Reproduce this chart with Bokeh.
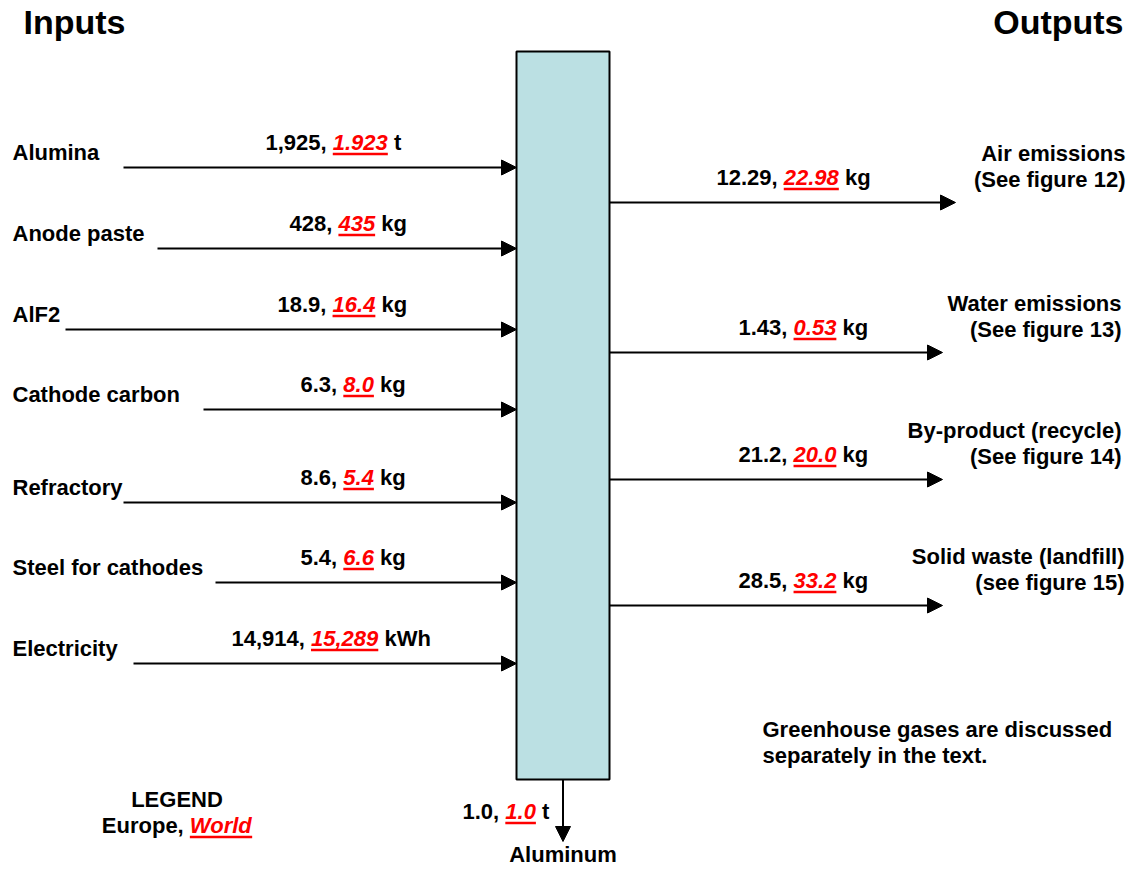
from bokeh.plotting import figure
from bokeh.models import ColumnDataSource, Arrow, NormalHead, Range1d
from bokeh.core.properties import value
from bokeh.embed import file_html
from bokeh.resources import INLINE

# ---------------- data ----------------
input_labels = ["Alumina", "Anode paste", "AlF2", "Cathode carbon",
                "Refractory", "Steel for cathodes", "Electricity"]
input_europe = ["1,925", "428", "18.9", "6.3", "8.6", "5.4", "14,914"]
input_world = ["1.923", "435", "16.4", "8.0", "5.4", "6.6", "15,289"]
input_units = ["t", "kg", "kg", "kg", "kg", "kg", "kWh"]

output_labels = ["Air emissions", "Water emissions", "By-product (recycle)",
                 "Solid waste (landfill)"]
output_refs = ["(See figure 12)", "(See figure 13)", "(See figure 14)",
               "(see figure 15)"]
output_europe = ["12.29", "1.43", "21.2", "28.5"]
output_world = ["22.98", "0.53", "20.0", "33.2"]
output_units = ["kg", "kg", "kg", "kg"]

product_label = "Aluminum"
product_europe = "1.0"
product_world = "1.0"
product_unit = "t"

title_in = "Inputs"
title_out = "Outputs"
legend_title = "LEGEND"
legend_europe = "Europe"
legend_world = "World"
note_lines = ["Greenhouse gases are discussed", "separately in the text."]

# ---------------- layout (screen pixels) ----------------
BOX_L, BOX_R, BOX_T, BOX_B = 516, 609, 51, 779
in_arrow_y = [167, 248, 329, 409, 502, 582, 663]
in_arrow_x0 = [123, 157, 65, 203, 123, 215, 133]
in_value_x = [265, 289, 277, 300, 300, 300, 231]
out_arrow_y = [202, 352, 479, 605]
out_arrow_x1 = [955, 942, 942, 942]
out_value_x = [716, 738, 738, 738]
out_label_x = [1125, 1121, 1121, 1124]
PRODUCT_ARROW_END = 841
PRODUCT_LABEL_Y = 862

FONT = "Liberation Sans"
RED = "#FF0000"
BLACK = "#000000"
FS = 22          # body text size
FS_TITLE = 34    # heading size
BASE_SHIFT = 0.38  # renderer places glyphs lower than the alphabetic anchor

# Arial / Liberation Sans Bold advance widths (1/1000 em)
WID = {' ': 278, ',': 278, '.': 278, 'k': 556, 'g': 611, 't': 333, 'W': 944,
       'h': 611, 'o': 611, 'r': 389, 'l': 278, 'd': 611, 'E': 667, 'u': 611,
       'p': 611, 'e': 556}
for c in "0123456789":
    WID[c] = 556


def tw(s, size):
    return sum(WID.get(c, 556) for c in s) * size / 1000.0


p = figure(width=1127, height=867, x_range=Range1d(0, 1127), y_range=Range1d(867, 0),
           x_axis_type=None, y_axis_type=None, output_backend="svg",
           toolbar_location=None, min_border=0)
p.outline_line_color = None
p.background_fill_color = "white"
p.border_fill_color = "white"

# central process box
p.quad(left=[BOX_L], right=[BOX_R], top=[BOX_T], bottom=[BOX_B],
       fill_color="#BBE0E3", line_color="black", line_width=2)

groups = {}


def add_text(x, y, txt, size, color, style, align):
    key = (size, color, style, align)
    g = groups.setdefault(key, {"x": [], "y": [], "text": []})
    g["x"].append(x)
    g["y"].append(y - BASE_SHIFT * size)
    g["text"].append(txt)


ul = {"x0": [], "y0": [], "x1": [], "y1": []}


def underline(x0, x1, y):
    ul["x0"].append(x0); ul["x1"].append(x1)
    ul["y0"].append(y + 3.5); ul["y1"].append(y + 3.5)


def value_label(x0, y, eu, wo, unit, size=FS):
    a = eu + ", "
    add_text(x0, y, a, size, BLACK, "bold", "left")
    xr = x0 + tw(a, size)
    add_text(xr, y, wo, size, RED, "bold italic", "left")
    wr = tw(wo, size)
    underline(xr, xr + wr, y)
    add_text(xr + wr + tw(" ", size), y, unit, size, BLACK, "bold", "left")


arr = {"xs": [], "ys": [], "xe": [], "ye": []}

# inputs
for i, lab in enumerate(input_labels):
    y = in_arrow_y[i]
    add_text(12, y - 6.5, lab, FS, BLACK, "bold", "left")
    value_label(in_value_x[i], y - 17, input_europe[i], input_world[i], input_units[i])
    arr["xs"].append(in_arrow_x0[i]); arr["xe"].append(BOX_L)
    arr["ys"].append(y); arr["ye"].append(y)

# outputs
for i, lab in enumerate(output_labels):
    y = out_arrow_y[i]
    add_text(out_label_x[i], y - 41, lab, FS, BLACK, "bold", "right")
    add_text(out_label_x[i], y - 15, output_refs[i], FS, BLACK, "bold", "right")
    value_label(out_value_x[i], y - 17, output_europe[i], output_world[i], output_units[i])
    arr["xs"].append(BOX_R); arr["xe"].append(out_arrow_x1[i])
    arr["ys"].append(y); arr["ye"].append(y)

# product
cx = (BOX_L + BOX_R) / 2
arr["xs"].append(cx); arr["xe"].append(cx)
arr["ys"].append(BOX_B); arr["ye"].append(PRODUCT_ARROW_END)
value_label(462, 819, product_europe, product_world, product_unit)
add_text(cx, PRODUCT_LABEL_Y, product_label, FS, BLACK, "bold", "center")

# titles
add_text(23, 34, title_in, FS_TITLE, BLACK, "bold", "left")
add_text(1123, 34, title_out, FS_TITLE, BLACK, "bold", "right")

# legend
add_text(176.5, 807, legend_title, FS, BLACK, "bold", "center")
le = legend_europe + ", "
lw_total = tw(le, FS) + tw(legend_world, FS)
lx = 176.5 - lw_total / 2
add_text(lx, 833, le, FS, BLACK, "bold", "left")
wx = lx + tw(le, FS)
add_text(wx, 833, legend_world, FS, RED, "bold italic", "left")
underline(wx, wx + tw(legend_world, FS), 833)

# note
add_text(762, 737, note_lines[0], FS, BLACK, "bold", "left")
add_text(762, 763, note_lines[1], FS, BLACK, "bold", "left")

# arrows
p.add_layout(Arrow(end=NormalHead(size=15, fill_color="black", line_color="black"),
                   x_start="xs", y_start="ys", x_end="xe", y_end="ye",
                   source=ColumnDataSource(arr), line_width=2, line_color="black"))

# underlines
p.segment(x0="x0", y0="y0", x1="x1", y1="y1", source=ColumnDataSource(ul),
          line_color=RED, line_width=2.5)

for (size, color, style, align), g in groups.items():
    p.text(x="x", y="y", text="text", source=ColumnDataSource(g),
           text_font=value(FONT), text_font_size=value("%dpx" % size),
           text_font_style=style, text_color=color, text_align=align,
           text_baseline="alphabetic")

open("out.html", "w").write(file_html(p, INLINE))
